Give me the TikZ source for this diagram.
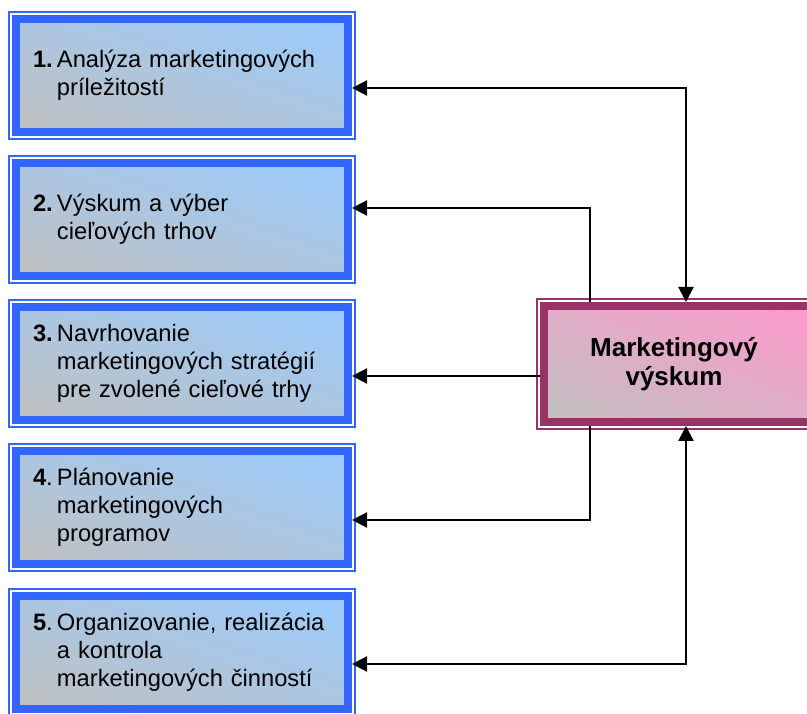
\documentclass[tikz,border=0pt]{standalone}
\usepackage{fontspec}
\setmainfont{Liberation Sans}
\usetikzlibrary{arrows.meta,shadings}

\definecolor{stepblue}{HTML}{3366FF}
\definecolor{steplight}{HTML}{99CCFF}
\definecolor{stepgray}{HTML}{C0C0C0}
\definecolor{resborder}{HTML}{993366}
\definecolor{respink}{HTML}{FF99CC}
\colorlet{stepmid}{steplight!50!stepgray}
\colorlet{resmid}{respink!50!stepgray}

\tikzset{
  stepbox/.style={shade, lower left=stepgray, upper right=steplight,
    upper left=stepmid, lower right=stepmid,
    draw=stepblue, line width=8pt, outer sep=4pt,
    minimum width=332pt, minimum height=113pt, inner sep=0pt,
    text width=298pt, align=left,
    font=\fontsize{23.7pt}{28pt}\selectfont},
  stepframe/.style={draw=stepblue, line width=1.8pt},
  resbox/.style={shade, lower left=stepgray, upper right=respink,
    upper left=resmid, lower right=resmid,
    draw=resborder, line width=8pt, outer sep=4pt,
    minimum width=276pt, minimum height=116pt, inner sep=0pt},
  resframe/.style={draw=resborder, line width=1.8pt},
  restext/.style={align=center, font=\fontsize{26pt}{29pt}\selectfont\bfseries},
  link/.style={line width=2.2pt, -{Triangle[length=15pt,width=15pt]}},
  duallink/.style={line width=2.2pt, {Triangle[length=15pt,width=15pt]}-{Triangle[length=15pt,width=15pt]}}
}

\newcommand{\steptext}[2]{\noindent\begin{tabular}{@{}p{24pt}@{}l@{}}#1 & #2\end{tabular}}

\begin{document}
\begin{tikzpicture}[x=1pt,y=1pt]
\useasboundingbox (0,0) rectangle (807,714);
\clip (0,0) rectangle (807,714);

% the five planning steps
\node[stepbox] (b1) at (182,638.5) {\steptext{\textbf{1.}}{Analýza marketingových\\ & príležitostí}};
\node[stepbox] (b2) at (182,494.5) {\steptext{\textbf{2.}}{Výskum a výber\\ & cieľových trhov}};
\node[stepbox] (b3) at (182,350.5) {\steptext{\textbf{3.}}{Navrhovanie\\ & marketingových stratégií\\ & pre zvolené cieľové trhy}};
\node[stepbox] (b4) at (182,206.5) {\steptext{\textbf{4}.}{Plánovanie\\ & marketingových\\ & programov}};
\node[stepbox] (b5) at (182,61.5) {\steptext{\textbf{5}.}{Organizovanie, realizácia\\ & a kontrola\\ & marketingových činností}};

\foreach \n in {b1,b2,b3,b4,b5}
  \draw[stepframe] ([shift={(-2.9pt,2.9pt)}]\n.north west) rectangle ([shift={(2.9pt,-2.9pt)}]\n.south east);

% marketing research box
\node[resbox] (mr) at (682,350) {};
\draw[resframe] ([shift={(-2.9pt,2.9pt)}]mr.north west) rectangle ([shift={(2.9pt,-2.9pt)}]mr.south east);
\node[restext] (mrt) at (674,350) {Marketingový\\výskum};

% columns of the vertical connector runs
\coordinate (xa) at (686,0);
\coordinate (xb) at (590,0);

% connectors
\draw[duallink] ([yshift=-12.5pt]b1.east) -| (mr.north -| xa);
\draw[link] (mr.north -| xb) |- ([yshift=11.5pt]b2.east);
\draw[link] ([yshift=-12.5pt]b3.east -| mr.west) -- ([yshift=-12.5pt]b3.east);
\draw[link] (mr.south -| xb) |- ([yshift=-12.5pt]b4.east);
\draw[duallink] ([yshift=-11.5pt]b5.east) -| (mr.south -| xa);
\end{tikzpicture}
\end{document}
